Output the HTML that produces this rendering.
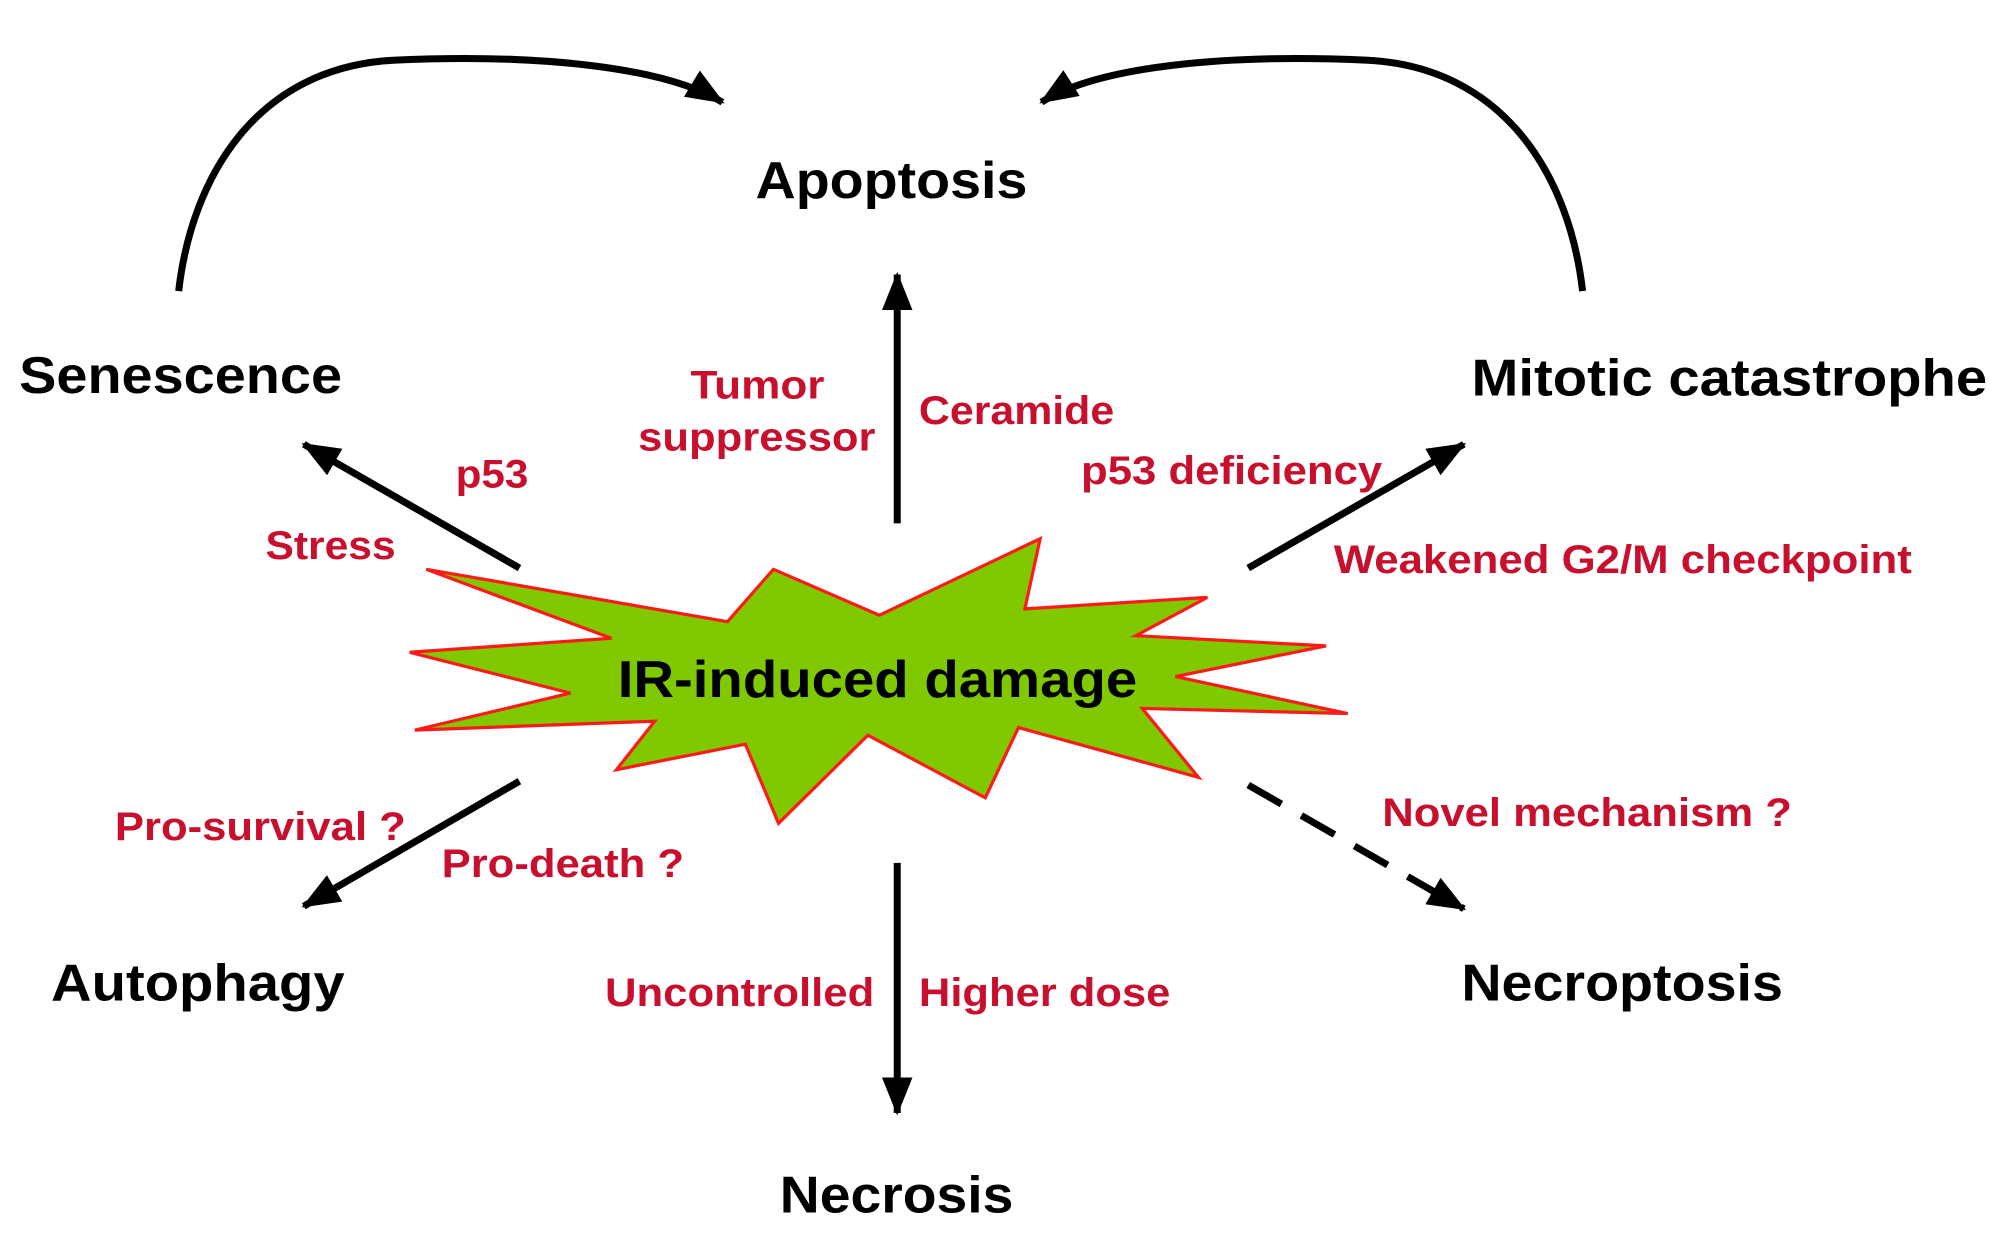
<!DOCTYPE html>
<html><head><meta charset="utf-8"><style>
html,body{margin:0;padding:0;background:#fff;}
svg{display:block;}
text{font-family:"Liberation Sans",Arial,sans-serif;font-weight:bold;}
.n{font-size:41px;fill:#000;}
.r{font-size:31px;fill:#c8102e;}
</style></head><body>
<svg width="1991" height="1242" viewBox="0 0 1560 973" xmlns="http://www.w3.org/2000/svg">
<defs>
<marker id="ah" markerUnits="userSpaceOnUse" markerWidth="34" markerHeight="26" refX="28" refY="12" orient="auto">
<path d="M0,0 L30,12 L0,24 Z" fill="#000"/>
</marker>
</defs>
<g stroke="#000" stroke-width="5.5" fill="none">
<path d="M140,228 C150,140 200,52 310,47 C420,42 520,52 566,80" marker-end="url(#ah)"/>
<path d="M1240,228 C1230,140 1180,52 1070,47 C960,42 860,52 816,80" marker-end="url(#ah)"/>
<line x1="703" y1="410" x2="703" y2="215" marker-end="url(#ah)"/>
<line x1="703" y1="676" x2="703" y2="872" marker-end="url(#ah)"/>
<line x1="407" y1="445" x2="238" y2="348" marker-end="url(#ah)"/>
<line x1="407" y1="612" x2="238" y2="710" marker-end="url(#ah)"/>
<line x1="978" y1="445" x2="1147" y2="348" marker-end="url(#ah)"/>
<line x1="978" y1="615" x2="1147" y2="712" stroke-dasharray="30,18" marker-end="url(#ah)"/>
</g>
<polygon points="334,446 570,487 606,446 689,482 815,422 803,477 946,468 890,498 1039,506 921,530 1056,559 895,555 939,609 798,570 772,625 680,576 610,645 584,583 483,603 513,565 325,572 447,543 321,511 479,500" fill="#80c800" stroke="#ff1a1a" stroke-width="2.5" stroke-linejoin="miter"/>
<text class="n" x="592" y="155" textLength="213" lengthAdjust="spacingAndGlyphs">Apoptosis</text>
<text class="n" x="15" y="308" textLength="253" lengthAdjust="spacingAndGlyphs">Senescence</text>
<text class="n" x="1153" y="310" textLength="404" lengthAdjust="spacingAndGlyphs">Mitotic catastrophe</text>
<text class="n" x="40" y="784" textLength="230" lengthAdjust="spacingAndGlyphs">Autophagy</text>
<text class="n" x="1145" y="784" textLength="252" lengthAdjust="spacingAndGlyphs">Necroptosis</text>
<text class="n" x="611" y="950" textLength="183" lengthAdjust="spacingAndGlyphs">Necrosis</text>
<text class="n" x="484" y="546" textLength="407" lengthAdjust="spacingAndGlyphs">IR-induced damage</text>
<text class="r" x="541" y="312" textLength="105" lengthAdjust="spacingAndGlyphs">Tumor</text>
<text class="r" x="500" y="353" textLength="186" lengthAdjust="spacingAndGlyphs">suppressor</text>
<text class="r" x="720" y="332" textLength="153" lengthAdjust="spacingAndGlyphs">Ceramide</text>
<text class="r" x="357" y="382" textLength="57" lengthAdjust="spacingAndGlyphs">p53</text>
<text class="r" x="208" y="438" textLength="102" lengthAdjust="spacingAndGlyphs">Stress</text>
<text class="r" x="847" y="379" textLength="236" lengthAdjust="spacingAndGlyphs">p53 deficiency</text>
<text class="r" x="1045" y="449" textLength="453" lengthAdjust="spacingAndGlyphs">Weakened G2/M checkpoint</text>
<text class="r" x="90" y="658" textLength="228" lengthAdjust="spacingAndGlyphs">Pro-survival ?</text>
<text class="r" x="346" y="687" textLength="190" lengthAdjust="spacingAndGlyphs">Pro-death ?</text>
<text class="r" x="474" y="788" textLength="211" lengthAdjust="spacingAndGlyphs">Uncontrolled</text>
<text class="r" x="720" y="788" textLength="197" lengthAdjust="spacingAndGlyphs">Higher dose</text>
<text class="r" x="1083" y="647" textLength="321" lengthAdjust="spacingAndGlyphs">Novel mechanism ?</text>
</svg>
</body></html>
